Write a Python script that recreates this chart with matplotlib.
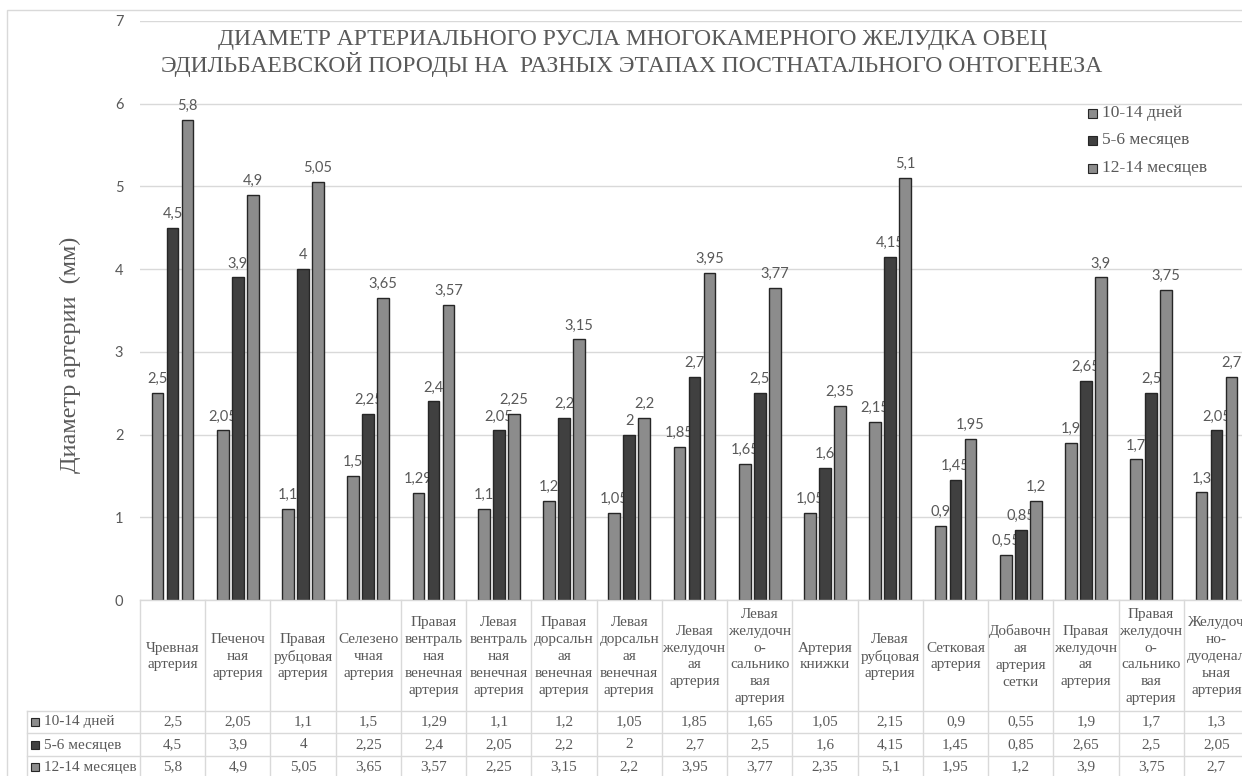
import matplotlib
matplotlib.use("Agg")
import matplotlib.pyplot as plt
import numpy as np
from matplotlib.transforms import blended_transform_factory
from matplotlib.patches import Rectangle

# ---------------- data ----------------
categories = [
    "Чревная\nартерия",
    "Печеноч\nная\nартерия",
    "Правая\nрубцовая\nартерия",
    "Селезено\nчная\nартерия",
    "Правая\nвентраль\nная\nвенечная\nартерия",
    "Левая\nвентраль\nная\nвенечная\nартерия",
    "Правая\nдорсальн\nая\nвенечная\nартерия",
    "Левая\nдорсальн\nая\nвенечная\nартерия",
    "Левая\nжелудочн\nая\nартерия",
    "Левая\nжелудочн\nо-\nсальнико\nвая\nартерия",
    "Артерия\nкнижки",
    "Левая\nрубцовая\nартерия",
    "Сетковая\nартерия",
    "Добавочн\nая\nартерия\nсетки",
    "Правая\nжелудочн\nая\nартерия",
    "Правая\nжелудочн\nо-\nсальнико\nвая\nартерия",
    "Желудоч\nно-\nдуоденал\nьная\nартерия",
]
series_names = ["10-14 дней", "5-6 месяцев", "12-14 месяцев"]
days_10_14 = [2.5, 2.05, 1.1, 1.5, 1.29, 1.1, 1.2, 1.05, 1.85, 1.65, 1.05, 2.15, 0.9, 0.55, 1.9, 1.7, 1.3]
months_5_6 = [4.5, 3.9, 4, 2.25, 2.4, 2.05, 2.2, 2, 2.7, 2.5, 1.6, 4.15, 1.45, 0.85, 2.65, 2.5, 2.05]
months_12_14 = [5.8, 4.9, 5.05, 3.65, 3.57, 2.25, 3.15, 2.2, 3.95, 3.77, 2.35, 5.1, 1.95, 1.2, 3.9, 3.75, 2.7]
series_values = [days_10_14, months_5_6, months_12_14]
yticks = [0, 1, 2, 3, 4, 5, 6, 7]

title = ("ДИАМЕТР АРТЕРИАЛЬНОГО РУСЛА МНОГОКАМЕРНОГО ЖЕЛУДКА ОВЕЦ\n"
         "ЭДИЛЬБАЕВСКОЙ ПОРОДЫ НА  РАЗНЫХ ЭТАПАХ ПОСТНАТАЛЬНОГО ОНТОГЕНЕЗА")
ylabel = "Диаметр артерии  (мм)"

# ---------------- style ----------------
colors = ["#8c8c8c", "#404040", "#8c8c8c"]
edge = "#262626"
grid_c = "#d9d9d9"
text_c = "#595959"
val_c = "#595959"
SERIF = ["Liberation Serif", "DejaVu Serif"]
SANS = ["Lato", "DejaVu Sans"]

W, H = 1242, 776
fig = plt.figure(figsize=(W / 100, H / 100), dpi=100)
fig.patch.set_facecolor("white")

def fy(py):
    return 1 - py / H

def fx(px):
    return px / W

left_px, right_px, top_px, bot_px = 140, 1249, 21, 600
ax = fig.add_axes([fx(left_px), fy(bot_px), fx(right_px - left_px), (bot_px - top_px) / H])
ax.set_facecolor("white")

n = len(categories)
x = np.arange(n)
bw = 0.18
offs = [-0.23, 0.0, 0.23]

for k, (vals, col) in enumerate(zip(series_values, colors)):
    z = 3 + k * 2
    ax.bar(x + offs[k], vals, width=bw, color=col, edgecolor=edge, linewidth=1.0, zorder=z)
    for xi, v in zip(x, vals):
        ax.annotate(f"{v:g}".replace(".", ","), (xi + offs[k], v), xytext=(0, 5),
                    textcoords="offset points", ha="center", va="bottom",
                    fontsize=10.5, color=val_c, family=SANS, zorder=z + 1)

ax.set_xlim(-0.5, n - 0.5)
ax.set_ylim(0, 7)
ax.set_yticks(yticks)
ax.set_yticklabels([str(t) for t in yticks], family=SANS, fontsize=10.5, color=text_c)
ax.tick_params(axis="y", length=0, pad=12)
ax.set_xticks([])
for s in ax.spines.values():
    s.set_visible(False)
ax.grid(axis="y", color=grid_c, linewidth=1.0, zorder=0)
ax.set_axisbelow(True)

# title
fig.text(fx(632), fy(53), title, ha="center", va="center", family=SERIF,
         fontsize=17, color=text_c, linespacing=1.1)
# y label
fig.text(fx(70), fy(355), ylabel, ha="center", va="center", rotation=90,
         family=SERIF, fontsize=17.5, color=text_c)

# legend
leg_y = [113, 140, 168]
for name, col, py in zip(series_names, colors, leg_y):
    fig.patches.append(Rectangle((fx(1088), fy(py + 4.5)), 9 / W, 9 / H, transform=fig.transFigure,
                                 facecolor=col, edgecolor=edge, linewidth=0.8))
    fig.text(fx(1102), fy(py), name, ha="left", va="center", family=SERIF,
             fontsize=12.5, color=text_c)

# data table
bt = blended_transform_factory(ax.transData, fig.transFigure)
hdr_top, hdr_bot = 600, 711
row_lines = [711, 733, 756]
row_centers = [722, 745, 767]
for i in range(n + 1):
    xb = i - 0.5
    fig.add_artist(plt.Line2D([xb, xb], [fy(hdr_top), fy(H + 5)], transform=bt,
                              color=grid_c, linewidth=1.0))
for py in row_lines:
    fig.add_artist(plt.Line2D([fx(27), fx(W + 10)], [fy(py), fy(py)], transform=fig.transFigure,
                              color=grid_c, linewidth=1.0))
fig.add_artist(plt.Line2D([fx(27), fx(27)], [fy(711), fy(H + 5)], transform=fig.transFigure,
                          color=grid_c, linewidth=1.0))
fig.add_artist(plt.Line2D([fx(left_px), fx(W + 10)], [fy(hdr_top), fy(hdr_top)],
                          transform=fig.transFigure, color=grid_c, linewidth=1.0))

for i, cat in enumerate(categories):
    fig.text(i, fy((hdr_top + hdr_bot) / 2 + 1), cat, transform=bt, ha="center", va="center",
             family=SERIF, fontsize=11, color=val_c, linespacing=1.38)

for vals, name, col, py in zip(series_values, series_names, colors, row_centers):
    fig.patches.append(Rectangle((fx(31), fy(py + 4)), 8 / W, 8 / H, transform=fig.transFigure,
                                 facecolor=col, edgecolor=edge, linewidth=0.8))
    fig.text(fx(44), fy(py), name, ha="left", va="center", family=SERIF,
             fontsize=11, color=val_c)
    for i, v in enumerate(vals):
        fig.text(i, fy(py), f"{v:g}".replace(".", ","), transform=bt, ha="center",
                 va="center", family=SERIF, fontsize=11, color=val_c)

# chart outer border
fig.patches.append(Rectangle((fx(7), fy(H + 5)), (W + 10 - 7) / W, (H + 5 - 10) / H,
                             transform=fig.transFigure, facecolor="none",
                             edgecolor=grid_c, linewidth=1.0))

fig.savefig("out.png", dpi=100, facecolor="white")
